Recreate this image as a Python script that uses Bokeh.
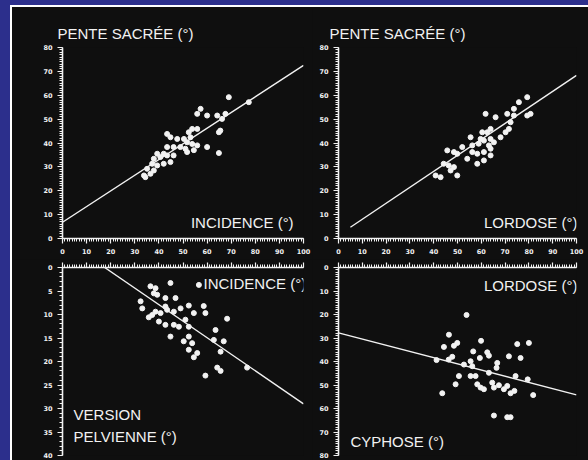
from bokeh.plotting import figure
from bokeh.layouts import column, row
from bokeh.models import Range1d, SingleIntervalTicker, Label, CustomJSTickFormatter
from bokeh.embed import file_html
from bokeh.resources import INLINE

# ---------------- data ----------------
# top-left: incidence vs pente sacrée
inc_tl = [69.0, 77.3, 57.3, 55.9, 60.0, 64.2, 67.6, 66.2, 64.9, 65.5, 53.8, 55.9, 52.4, 43.4, 44.8,
          47.6, 50.4, 53.1, 51.7, 53.8, 43.4, 46.1, 48.9, 51.0, 55.9, 60.0, 54.5, 51.7, 64.9, 39.3,
          42.0, 40.6, 37.9, 43.4, 46.1, 44.8, 42.0, 37.2, 39.3, 35.1, 37.9, 33.8, 36.5, 34.4]
ss_tl = [59.2, 57.1, 54.3, 52.2, 51.5, 51.5, 52.2, 50.1, 44.5, 45.2, 45.9, 45.9, 44.5, 43.8, 42.4,
         41.7, 41.7, 42.4, 40.3, 39.6, 38.3, 38.3, 38.3, 37.6, 39.0, 38.3, 37.0, 36.2, 35.8, 35.5,
         35.5, 34.1, 33.4, 34.8, 34.8, 32.0, 31.3, 31.3, 30.6, 29.2, 28.5, 26.4, 27.1, 25.7]
fit_tl_x = [0, 100]
fit_tl_y = [6.8, 72.5]

# top-right: lordose vs pente sacrée
lor_tr = [79.3, 75.8, 73.7, 70.9, 73.7, 80.7, 79.3, 61.8, 66.0, 72.3, 71.6, 70.2, 68.1, 63.9, 60.4,
          62.5, 55.5, 59.7, 61.1, 63.9, 65.3, 63.2, 63.9, 58.9, 56.2, 52.0, 45.7, 48.5, 49.9, 56.2,
          58.3, 61.1, 63.9, 54.1, 61.1, 58.3, 44.2, 46.3, 48.5, 47.1, 49.9, 40.8, 42.9]
ss_tr = [59.2, 57.1, 54.3, 52.2, 51.5, 52.2, 51.5, 52.2, 50.8, 48.7, 45.9, 44.5, 42.4, 45.9, 44.5,
         44.5, 42.4, 41.7, 41.0, 41.7, 40.3, 39.0, 37.6, 39.7, 39.0, 38.3, 36.9, 36.2, 35.5, 36.2,
         35.5, 36.2, 34.8, 33.4, 32.7, 31.3, 31.3, 30.6, 29.9, 28.5, 26.4, 26.4, 25.7]
fit_tr_x = [5, 100]
fit_tr_y = [4.7, 68.3]

# bottom-left: incidence vs version pelvienne
inc_bl = [44.8, 56.6, 36.5, 38.6, 37.9, 39.3, 42.7, 46.9, 32.4, 33.1, 42.7, 46.2, 49.0, 52.4, 54.5,
          58.6, 59.3, 38.6, 37.2, 35.8, 40.7, 43.4, 51.0, 68.3, 40.0, 42.7, 46.2, 48.3, 52.4, 63.5,
          44.8, 52.4, 62.8, 66.9, 50.3, 53.8, 65.6, 52.4, 55.9, 54.5, 64.2, 65.6, 76.6, 59.3]
vp_bl = [3.3, 3.7, 4.0, 4.4, 5.5, 5.8, 6.5, 6.5, 7.2, 8.7, 8.3, 9.4, 8.7, 8.1, 9.7,
         8.2, 9.7, 9.4, 10.1, 10.6, 9.7, 9.0, 11.1, 10.9, 11.5, 12.2, 12.2, 12.6, 12.6, 13.3,
         14.7, 14.7, 15.4, 15.7, 15.7, 16.1, 17.9, 17.5, 18.2, 19.1, 21.3, 22.0, 21.3, 23.0]
fit_bl_x = [17.5, 100]
fit_bl_y = [0.0, 29.0]

# bottom-right: lordose vs cyphose
lor_br = [53.8, 46.4, 44.3, 49.9, 48.5, 59.9, 56.6, 62.5, 63.2, 59.4, 55.5, 47.8, 46.3, 41.2, 71.6,
          76.5, 75.1, 80.0, 66.7, 66.4, 63.2, 56.2, 52.7, 50.6, 55.5, 57.6, 49.2, 43.6, 58.3, 59.7,
          61.1, 64.6, 65.3, 67.4, 69.5, 70.9, 72.3, 73.9, 74.4, 79.5, 81.8, 65.3, 70.9, 72.3]
cyp_br = [20.2, 28.6, 33.8, 32.1, 33.3, 31.2, 35.7, 36.1, 37.5, 38.5, 39.9, 38.0, 39.2, 39.4, 37.8,
          38.5, 32.6, 32.1, 40.6, 42.7, 44.8, 42.0, 41.3, 46.2, 46.2, 46.2, 49.7, 53.5, 49.7, 51.1,
          51.8, 49.0, 51.1, 50.1, 51.8, 50.4, 53.5, 52.5, 46.2, 47.6, 54.3, 63.0, 63.7, 63.7]
fit_br_x = [0, 100]
fit_br_y = [27.8, 54.2]

# ---------------- styling ----------------
BG = "#0f0f0f"
FG = "#f2f2f2"
FONT = "Liberation Sans"


def style_axis(ax, interval, minor, labels=True):
    ax.ticker = SingleIntervalTicker(interval=interval, num_minor_ticks=minor)
    ax.axis_line_color = FG
    ax.axis_line_width = 1.6
    ax.major_tick_line_color = FG
    ax.major_tick_line_width = 1.2
    ax.major_tick_out = 5
    ax.major_tick_in = 0
    ax.minor_tick_line_color = FG
    ax.minor_tick_line_width = 1
    ax.minor_tick_out = 3
    ax.minor_tick_in = 0
    ax.major_label_text_color = FG
    ax.major_label_text_font = "DejaVu Sans"
    ax.major_label_text_font_style = "bold"
    ax.major_label_text_font_size = "6.5px"
    if labels:
        ax.major_label_standoff = 5
    else:
        ax.major_label_standoff = 0
        ax.formatter = CustomJSTickFormatter(code="return ''")


def make_fig(w, h, xr, yr, bl, br, bt, bb, above=False, title=None, title_offset=0):
    f = figure(width=w, height=h, x_range=xr, y_range=yr, output_backend="svg",
               toolbar_location=None, x_axis_location="above" if above else "below",
               min_border_left=bl, min_border_right=br, min_border_top=bt, min_border_bottom=bb,
               background_fill_color=BG, border_fill_color=BG, title=title)
    f.outline_line_color = None
    f.grid.visible = False
    if title:
        f.title.align = "left"
        f.title.offset = title_offset
        f.title.standoff = 11
        f.title.text_font = FONT
        f.title.text_font_style = "normal"
        f.title.text_font_size = "15px"
        f.title.text_color = FG
    return f


def add_text(f, txt, x, y, align="left"):
    f.add_layout(Label(x=x, y=y, text=txt, text_align=align, text_baseline="middle",
                       text_color=FG, text_font=FONT, text_font_size="15px"))


# top-left
p1 = make_fig(300, 252, Range1d(0, 100), Range1d(0, 80), 50, 9, 40, 21,
              title="PENTE SACRÉE (°)", title_offset=-5)
style_axis(p1.xaxis[0], 10, 10)
style_axis(p1.yaxis[0], 10, 10)
p1.line(fit_tl_x, fit_tl_y, line_color=FG, line_width=1.4)
p1.scatter(inc_tl, ss_tl, size=5, color=FG)
add_text(p1, "INCIDENCE (°)", 95.9, 6.9, "right")

# top-right
p2 = make_fig(276, 252, Range1d(0, 100), Range1d(0, 80), 26, 12, 40, 21,
              title="PENTE SACRÉE (°)", title_offset=-9)
style_axis(p2.xaxis[0], 10, 10)
style_axis(p2.yaxis[0], 10, 10)
p2.line(fit_tr_x, fit_tr_y, line_color=FG, line_width=1.4)
p2.scatter(lor_tr, ss_tr, size=5, color=FG)
add_text(p2, "LORDOSE (°)", 100.4, 6.9, "right")

# bottom-left
p3 = make_fig(300, 201, Range1d(0, 100), Range1d(40, 0), 50, 9, 7, 5, above=True)
style_axis(p3.xaxis[0], 10, 10, labels=False)
style_axis(p3.yaxis[0], 5, 5)
p3.line(fit_bl_x, fit_bl_y, line_color=FG, line_width=1.4)
p3.scatter(inc_bl, vp_bl, size=5, color=FG)
add_text(p3, "INCIDENCE (°)", 58.5, 3.5)
add_text(p3, "VERSION", 4.6, 31.3)
add_text(p3, "PELVIENNE (°)", 4.6, 36.0)

# bottom-right
p4 = make_fig(276, 201, Range1d(0, 100), Range1d(80, 0), 26, 12, 8, 3, above=True)
style_axis(p4.xaxis[0], 10, 10, labels=False)
style_axis(p4.yaxis[0], 10, 10)
p4.line(fit_br_x, fit_br_y, line_color=FG, line_width=1.4)
p4.scatter(lor_br, cyp_br, size=5, color=FG)
add_text(p4, "LORDOSE (°)", 100.4, 7.8, "right")
add_text(p4, "CYPHOSE (°)", 5.0, 73.9)

p = column(row(p1, p2, spacing=0), row(p3, p4, spacing=0), spacing=0)

page_css = ("<style>html{background:#2c2f8c;overflow:hidden}"
            "body{margin:5px 0 0 10px;border-top:2px solid #ffffff;border-left:2px solid #ffffff;"
            "background:#0f0f0f;min-height:460px}</style></head>")
open("out.html", "w").write(file_html(p, INLINE).replace("</head>", page_css, 1))
